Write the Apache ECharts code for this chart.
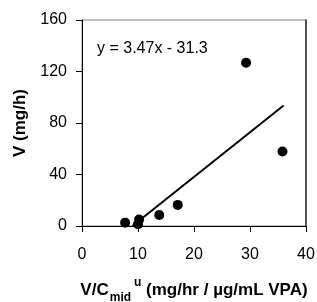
<!DOCTYPE html>
<html>
<head>
<meta charset="utf-8">
<style>
  html, body { margin: 0; padding: 0; background: #fff; }
  #chart { width: 317px; height: 302px; }
</style>
<script src="https://cdn.jsdelivr.net/npm/echarts@6/dist/echarts.min.js"></script>
</head>
<body>
<div id="chart"></div>
<script>
var xVals = [7.7, 10.2, 10.0, 13.8, 17.1, 29.3, 35.8];
var yVals = [2.6, 5.0, 1.3, 8.6, 16.4, 126.8, 57.8];
// trendline ends, y = 3.47x - 31.3
var trendX = [9.0, 36.0];
var trendY = [0, 93.6];
var eqText = 'y = 3.47x - 31.3';

var font = 'Liberation Sans, Arial, sans-serif';

var chart = echarts.init(document.getElementById('chart'));
chart.setOption({
  animation: false,
  grid: { left: 82, right: 11, top: 20, bottom: 76, show: true, borderColor: '#808080', borderWidth: 1, outerBoundsMode: 'none', containLabel: false },
  xAxis: {
    type: 'value', min: 0, max: 40, interval: 10,
    axisLine: { show: true, onZero: false, lineStyle: { color: '#000', width: 1 } },
    axisTick: { show: true, length: 6, lineStyle: { color: '#000' } },
    splitLine: { show: false },
    axisLabel: { color: '#000', fontSize: 16, fontFamily: font, margin: 21 },
    name: '{b|V/C}{sub|mid}{sup|u}{b| (mg/hr / µg/mL VPA)}',
    nameLocation: 'middle', nameGap: 51,
    nameTextStyle: {
      rich: {
        b: { fontSize: 17, fontWeight: 'bold', fontFamily: font, color: '#000', verticalAlign: 'bottom', lineHeight: 22 },
        sub: { fontSize: 12, fontWeight: 'bold', fontFamily: font, color: '#000', verticalAlign: 'bottom', padding: [0, 1, -5, 1], lineHeight: 22 },
        sup: { fontSize: 12, fontWeight: 'bold', fontFamily: font, color: '#000', verticalAlign: 'top', padding: [0, 0, 0, 2], lineHeight: 22 }
      }
    }
  },
  yAxis: [{
    type: 'value', min: 0, max: 160, interval: 40,
    axisLine: { show: true, lineStyle: { color: '#000', width: 1 } },
    axisTick: { show: true, length: 6, lineStyle: { color: '#000' } },
    splitLine: { show: false },
    axisLabel: { color: '#000', fontSize: 16, fontFamily: font, margin: 15 },
    name: 'V (mg/h)', nameLocation: 'middle', nameGap: 53,
    nameTextStyle: { fontSize: 17, fontWeight: 'bold', fontFamily: font, color: '#000' }
  }, {
    type: 'value', min: 0, max: 160, position: 'right',
    axisLine: { show: true, lineStyle: { color: '#333', width: 1.5 } },
    axisTick: { show: false }, axisLabel: { show: false }, splitLine: { show: false }
  }],
  graphic: [{
    type: 'text', left: 97, top: 41,
    style: { text: eqText, fontSize: 16, fontFamily: font, fill: '#000' }
  }],
  series: [{
    type: 'line',
    data: trendX.map(function(x, i) { return [x, trendY[i]]; }),
    showSymbol: false, symbol: 'none',
    lineStyle: { color: '#000', width: 2 },
    z: 2
  }, {
    type: 'scatter',
    data: xVals.map(function(x, i) { return [x, yVals[i]]; }),
    symbol: 'circle', symbolSize: 10,
    itemStyle: { color: '#000', opacity: 1 },
    z: 3
  }]
});
</script>
</body>
</html>
